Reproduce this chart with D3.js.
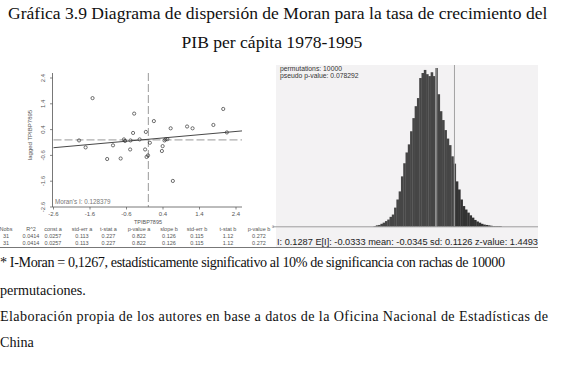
<!DOCTYPE html>
<html><head><meta charset="utf-8">
<script src="https://cdn.jsdelivr.net/npm/d3@7"></script>
<style>html,body{margin:0;padding:0;background:#fff}svg{display:block}</style>
</head><body>
<svg id="c" width="574" height="369"></svg>
<script>
// ---------- data ----------
const titleLines = ["Gráfica 3.9 Diagrama de dispersión de Moran para la tasa de crecimiento del",
                    "PIB per cápita 1978-1995"];
const noteLines = ["* I-Moran = 0,1267, estadísticamente significativo al 10% de significancia con rachas de 10000",
                   "permutaciones.",
                   "Elaboración propia de los autores en base a datos de la Oficina Nacional de Estadísticas de",
                   "China"];
// Moran scatter: standardized TPIBP7895 vs lagged
const scatterX = [-1.53,-0.39,2.05,0.15,1.78,1.06,1.21,0.61,-0.42,-0.07,2.15,-1.90,-0.67,-0.64,-0.49,-0.24,
                  0.47,0.52,0.44,0.04,-0.97,-1.72,0.39,-0.50,-0.09,-0.05,-0.01,0.37,-1.13,-0.76,0.67];
const scatterY = [1.62,1.02,1.20,0.73,0.58,0.52,0.45,0.45,0.27,0.31,0.29,-0.02,0.02,-0.04,-0.02,0.02,
                  0.02,0.03,-0.02,-0.11,-0.21,-0.29,-0.24,-0.37,-0.37,-0.66,-0.60,-0.43,-0.74,-0.72,-1.59];
const axisTicks = [-2.6,-1.6,-0.6,0.4,1.4,2.4];
const regIntercept = 0.0257, regSlope = 0.126;
const moranLabel = "Moran's I: 0.128379";
const xAxisTitle = "TPIBP7895", yAxisTitle = "lagged TPIBP7895";
const tableHeader = ["Nobs","R^2","const a","std-err a","t-stat a","p-value a","slope b","std-err b","t-stat b","p-value b"];
const tableRow1 = ["31","0.0414","0.0257","0.113","0.227","0.822","0.126","0.115","1.12","0.272"];
const tableRow2 = ["31","0.0414","0.0257","0.113","0.227","0.822","0.126","0.115","1.12","0.272"];
// permutation histogram (bin start, count)
const histBins = [-0.60,-0.58,-0.56,-0.54,-0.52,-0.50,-0.48,-0.46,-0.44,-0.42,-0.40,-0.38,-0.36,-0.34,-0.32,-0.30,
  -0.28,-0.26,-0.24,-0.22,-0.20,-0.18,-0.16,-0.14,-0.12,-0.10,-0.08,-0.06,-0.04,-0.02,0.00,0.02,0.04,0.06,0.08,0.10,
  0.12,0.14,0.16,0.18,0.20,0.22,0.24,0.26,0.28,0.30,0.32,0.34,0.36,0.38,0.40,0.42,0.44,0.46,0.48,0.50,0.52];
const histCounts = [0,1,3,4,7,10,14,18,25,31,49,70,91,130,164,192,
  213,247,281,312,333,385,398,406,395,390,400,390,411,343,299,276,250,228,211,182,
  163,117,96,70,53,44,36,29,23,17,13,10,7,5,4,3,2,1,1,1,1];
const binWidth = 0.02;
const observedI = 0.1287, expectedI = -0.0333;
const permLines = ["permutations: 10000","pseudo p-value: 0.078292"];
const statsLine = "I: 0.1287   E[I]: -0.0333   mean: -0.0345   sd: 0.1126   z-value: 1.4493";

// ---------- drawing ----------
const svg = d3.select("#c");
const serif = "'Liberation Serif','DejaVu Serif',serif";
const sans = "'Liberation Sans',Arial,sans-serif";

function fitWidth(sel, w){
  const n = sel.node(); const cur = n.getComputedTextLength();
  const fs = parseFloat(sel.attr("font-size"));
  sel.attr("font-size", fs*w/cur);
  return fs*w/cur;
}

// title
const t1 = svg.append("text").attr("x",8).attr("y",19).attr("font-family",serif).attr("font-size",16).attr("fill","#111").text(titleLines[0]);
const tfs = fitWidth(t1, 540);
svg.append("text").attr("x",272).attr("y",48).attr("text-anchor","middle").attr("font-family",serif).attr("font-size",tfs).attr("fill","#111").text(titleLines[1]);

// notes
const noteY = [267,295,321,347];
const noteW = [505,null,548,null];
const p1 = svg.append("text").attr("font-family",serif).attr("font-size",13).text(noteLines[0]);
const w1 = p1.node().getComputedTextLength(); p1.remove();
const p3 = svg.append("text").attr("font-family",serif).attr("font-size",13).text(noteLines[2]);
const w3 = p3.node().getComputedTextLength(); p3.remove();
const nfs = 13*((505/w1)+(548/w3))/2;
noteLines.forEach((s,i)=>{
  const t = svg.append("text").attr("x",0).attr("y",noteY[i]).attr("font-family",serif).attr("font-size",nfs).attr("fill","#111").text(s);
  if(noteW[i]) t.attr("textLength",noteW[i]).attr("lengthAdjust","spacing");
});

// ---- scatter panel ----
const x = d3.scaleLinear().domain([-2.6,2.4]).range([53.5,236]);
const y = d3.scaleLinear().domain([-2.6,2.4]).range([207,78]);
const g = svg.append("g");
g.append("line").attr("x1",x(0)).attr("x2",x(0)).attr("y1",73).attr("y2",y(-2.6)).attr("stroke","#aaa").attr("stroke-width",1.2).attr("stroke-dasharray","8,3");
g.append("line").attr("x1",x(-2.6)).attr("x2",242).attr("y1",y(0)).attr("y2",y(0)).attr("stroke","#999").attr("stroke-width",1).attr("stroke-dasharray","8,3");
const xr = [-2.6, x.invert(242)];
g.append("line").attr("x1",x(xr[0])).attr("y1",y(regIntercept+regSlope*xr[0])).attr("x2",x(xr[1])).attr("y2",y(regIntercept+regSlope*xr[1])).attr("stroke","#333").attr("stroke-width",0.9);
g.selectAll("circle.p").data(scatterX.map((v,i)=>[v,scatterY[i]])).enter().append("circle")
  .attr("cx",d=>x(d[0])).attr("cy",d=>y(d[1])).attr("r",1.6).attr("fill","none").attr("stroke","#333").attr("stroke-width",0.7);
g.append("line").attr("x1",52.5).attr("x2",52.5).attr("y1",73).attr("y2",207).attr("stroke","#555").attr("stroke-width",0.8);
g.append("line").attr("x1",52.5).attr("x2",242).attr("y1",207).attr("y2",207).attr("stroke","#555").attr("stroke-width",0.8);
axisTicks.forEach(t=>{
  g.append("line").attr("x1",50).attr("x2",52.5).attr("y1",y(t)).attr("y2",y(t)).attr("stroke","#555").attr("stroke-width",0.7);
  g.append("text").attr("transform",`translate(44.5,${y(t)}) rotate(-90)`).attr("text-anchor","middle").attr("font-family",sans).attr("font-size",6).attr("fill","#555").text(t.toFixed(1));
  g.append("line").attr("x1",x(t)).attr("x2",x(t)).attr("y1",207).attr("y2",209.5).attr("stroke","#555").attr("stroke-width",0.7);
  g.append("text").attr("x",x(t)).attr("y",216).attr("text-anchor","middle").attr("font-family",sans).attr("font-size",6).attr("fill","#555").text(t.toFixed(1));
});
g.append("text").attr("transform","translate(32,135) rotate(-90)").attr("text-anchor","middle").attr("font-family",sans).attr("font-size",6).attr("fill","#555").text(yAxisTitle);
g.append("text").attr("x",148).attr("y",223.5).attr("text-anchor","middle").attr("font-family",sans).attr("font-size",5.5).attr("fill","#555").text(xAxisTitle);
g.append("text").attr("x",55).attr("y",204).attr("font-family",sans).attr("font-size",6.3).attr("fill","#777").text(moranLabel);
const colX = [6,31,53,82,108.5,139,169,197,228,259];
[[tableHeader,231],[tableRow1,237.5],[tableRow2,244.5]].forEach(([row,yy])=>{
  row.forEach((s,i)=>svg.append("text").attr("x",colX[i]).attr("y",yy).attr("text-anchor","middle").attr("font-family",sans).attr("font-size",5.5).attr("fill","#555").text(s));
});

// ---- histogram panel ----
const hx = d3.scaleLinear().domain([-1.434,0.86]).range([276,538]);
const hy = d3.scaleLinear().domain([0,411]).range([226.5,68]);
svg.append("rect").attr("x",276).attr("y",65).attr("width",262).attr("height",182).attr("fill","#f3f2f3");
svg.selectAll("rect.b").data(histBins.map((b,i)=>[b,histCounts[i]])).enter().append("rect")
  .attr("x",d=>hx(d[0])).attr("width",d=>hx(d[0]+binWidth)-hx(d[0])+0.3)
  .attr("y",d=>hy(d[1])).attr("height",d=>hy(0)-hy(d[1]))
  .attr("fill",d=>d[0]>=observedI?"#333":"#464646");
svg.append("line").attr("x1",273).attr("x2",538).attr("y1",226.8).attr("y2",226.8).attr("stroke","#888").attr("stroke-width",0.8);
svg.append("line").attr("x1",hx(expectedI)).attr("x2",hx(expectedI)).attr("y1",68).attr("y2",226.5).attr("stroke","#ddd").attr("stroke-width",0.8);
svg.append("line").attr("x1",hx(observedI)).attr("x2",hx(observedI)).attr("y1",65).attr("y2",226.5).attr("stroke","#999").attr("stroke-width",0.9);
svg.append("text").attr("x",272).attr("y",228).attr("font-family",sans).attr("font-size",3.5).attr("fill","#666").text("0");
permLines.forEach((s,i)=>svg.append("text").attr("x",280).attr("y",71+i*7.3).attr("font-family",sans).attr("font-size",6.8).attr("fill","#333").text(s));
const st = svg.append("text").attr("x",277).attr("y",245).attr("font-family",sans).attr("font-size",8.5).attr("fill","#222").text(statsLine);
st.attr("textLength",261).attr("lengthAdjust","spacingAndGlyphs");
svg.append("line").attr("x1",0).attr("x2",538).attr("y1",247.5).attr("y2",247.5).attr("stroke","#777").attr("stroke-width",1.2);
</script>
</body></html>
